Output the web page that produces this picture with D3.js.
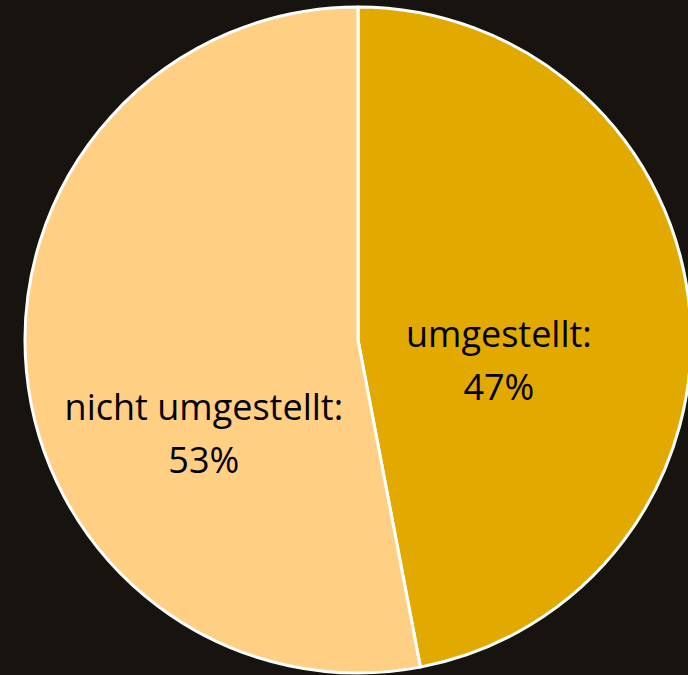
<!DOCTYPE html>
<html>
<head>
  <meta charset="utf-8">
  <title>Umstellung</title>
  <style>
    body {
      margin: 0;
      background-color: #17130f;
      overflow: hidden;
    }
    .slice-label {
      font-family: "Open Sans", sans-serif;
      font-size: 36px;
      fill: black;
      text-anchor: middle;
    }
  </style>
  <script src="https://d3js.org/d3.v7.min.js"></script>
</head>
<body>
  <div id="chart"></div>
  <script>
    // slice data
    const categories = ["umgestellt", "nicht umgestellt"];
    const values = [47, 53];
    const colors = ["#e2aa00", "#ffcf84"];

    const width = 688, height = 675;
    const cx = 358, cy = 340, radius = 333;

    const svg = d3.select("#chart")
      .append("svg")
        .attr("width", width)
        .attr("height", height)
        .style("background-color", "#17130f");

    const pie = d3.pie().sort(null).value(d => d);
    const arcs = pie(values);

    const arc = d3.arc().innerRadius(0).outerRadius(radius);

    const g = svg.append("g")
      .attr("transform", `translate(${cx},${cy})`);

    g.selectAll("path")
      .data(arcs)
      .enter().append("path")
        .attr("d", arc)
        .attr("fill", (d, i) => colors[i])
        .attr("stroke", "white")
        .attr("stroke-width", 3)
        .attr("stroke-linejoin", "round");

    // labels sit along the slice's mid angle, then get nudged down like the original
    const labelRadius = [0.425, 0.465];
    const labelShift = [20, 65];

    const labels = g.selectAll(".slice-label")
      .data(arcs)
      .enter().append("text")
        .attr("class", "slice-label")
        .attr("transform", (d, i) => {
          const r = radius * labelRadius[i];
          const c = d3.arc().innerRadius(r).outerRadius(r).centroid(d);
          return `translate(${c[0]},${c[1] + labelShift[i]})`;
        });

    labels.append("tspan")
      .attr("x", 0)
      .attr("y", 0)
      .text((d, i) => categories[i] + ":");

    labels.append("tspan")
      .attr("x", 0)
      .attr("y", 53)
      .text((d, i) => values[i] + "%");
  </script>
</body>
</html>
